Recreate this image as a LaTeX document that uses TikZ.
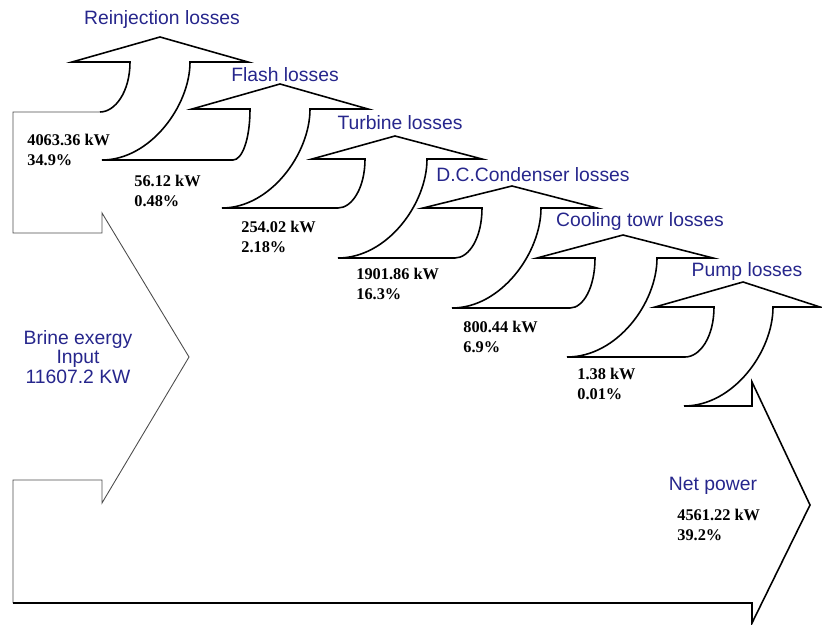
\documentclass[tikz,border=0pt]{standalone}
\usepackage{fontspec}
\setmainfont{Liberation Serif}
\newfontfamily\labelfont{Liberation Sans}
\definecolor{lossblue}{RGB}{38,38,140}

\begin{document}
\begin{tikzpicture}[x=2mm, y=-2mm,
    flowline/.style={line width=0.9pt, line join=miter},
    inputline/.style={line width=0.5pt, color=gray!60!black},
    lossname/.style={font=\labelfont\fontsize{11}{11.2}\selectfont, text=lossblue, inner sep=0pt, align=center},
    lossvalue/.style={font=\bfseries\fontsize{9.3}{11.4}\selectfont, inner sep=0pt, anchor=west, align=left}]
      \useasboundingbox (0,0) rectangle (82.2,62.4);

      % Brine input arrow (thin outline)
      \draw[inputline] (10.0,11.2) -- (1.3,11.2) -- (1.3,23.3) -- (10.2,23.3) -- (10.2,21.3)
        -- (18.9,35.7) -- (10.2,50.3) -- (10.2,48.0) -- (1.3,48.0) -- (1.3,60.3);

      % Net power arrow and the staircase of loss arrows
      \draw[flowline] (1.3,60.3) -- (75.2,60.3) -- (75.2,62.3) -- (81.0,50.5) -- (75.2,38.2) -- (75.2,40.6) -- (68.4,40.6)
        % pump losses
        .. controls (73.3,40.6) and (77.3,35.2) .. (77.3,30.7) -- (82.0,30.7) -- (74.3,28.2) -- (65.5,30.7) -- (71.4,30.7)
        .. controls (71.4,33.7) and (70.0,35.7) .. (68.5,35.7) -- (56.7,35.7)
        % cooling tower losses
        .. controls (61.7,35.7) and (65.7,30.3) .. (65.7,25.8) -- (71.3,25.8) -- (62.3,23.5) -- (53.7,25.8) -- (59.5,25.8)
        .. controls (59.5,28.8) and (58.3,30.8) .. (57.0,30.8) -- (45.2,30.8)
        % condenser losses
        .. controls (50.1,30.8) and (54.1,25.3) .. (54.1,20.8) -- (59.7,20.8) -- (51.2,18.6) -- (42.3,20.8) -- (48.2,20.8)
        .. controls (48.2,23.8) and (46.9,25.8) .. (45.5,25.8) -- (33.8,25.8)
        % turbine losses
        .. controls (38.7,25.8) and (42.7,20.4) .. (42.7,15.9) -- (48.2,15.9) -- (39.5,13.6) -- (31.2,15.9) -- (36.5,15.9)
        .. controls (36.5,18.8) and (35.2,20.8) .. (33.8,20.8) -- (22.2,20.8)
        % flash losses
        .. controls (27.0,20.8) and (31.0,15.4) .. (31.0,10.9) -- (36.8,10.9) -- (28.0,8.4) -- (19.2,10.9) -- (25.0,10.9)
        .. controls (25.0,14.0) and (24.2,16.0) .. (23.3,16.0) -- (10.2,16.0)
        % reinjection losses
        .. controls (15.0,16.0) and (19.0,10.6) .. (19.0,6.2) -- (24.8,6.2) -- (16.0,3.7) -- (7.2,6.2) -- (13.0,6.2)
        .. controls (13.0,9.2) and (11.5,11.2) .. (10.0,11.2);

      % Names of the flows
      \node[lossname] (reinj) at (16.2,2.0) {Reinjection losses};
      \node[lossname] (flash) at (28.5,7.5) {Flash losses};
      \node[lossname] (turb) at (40.0,12.3) {Turbine losses};
      \node[lossname] (cond) at (53.3,17.5) {D.C.Condenser losses};
      \node[lossname] (cool) at (64.0,22.2) {Cooling towr losses};
      \node[lossname] (pump) at (74.7,27.2) {Pump losses};
      \node[lossname] (net) at (71.3,48.6) {Net power};
      \node[lossname] (brine) at (7.8,35.7) {Brine exergy\\Input\\11607.2 KW};

      % Values
      \node[lossvalue] (reinjval) at (2.7,15.0) {4063.36 kW\\34.9\%};
      \node[lossvalue] (flashval) at (13.4,19.1) {56.12 kW\\0.48\%};
      \node[lossvalue] (turbval) at (24.1,23.7) {254.02 kW\\2.18\%};
      \node[lossvalue] (condval) at (35.6,28.4) {1901.86 kW\\16.3\%};
      \node[lossvalue] (coolval) at (46.3,33.7) {800.44 kW\\6.9\%};
      \node[lossvalue] (pumpval) at (57.7,38.4) {1.38 kW\\0.01\%};
      \node[lossvalue] (netval) at (67.7,52.5) {4561.22 kW\\39.2\%};
    \end{tikzpicture}
\end{document}
